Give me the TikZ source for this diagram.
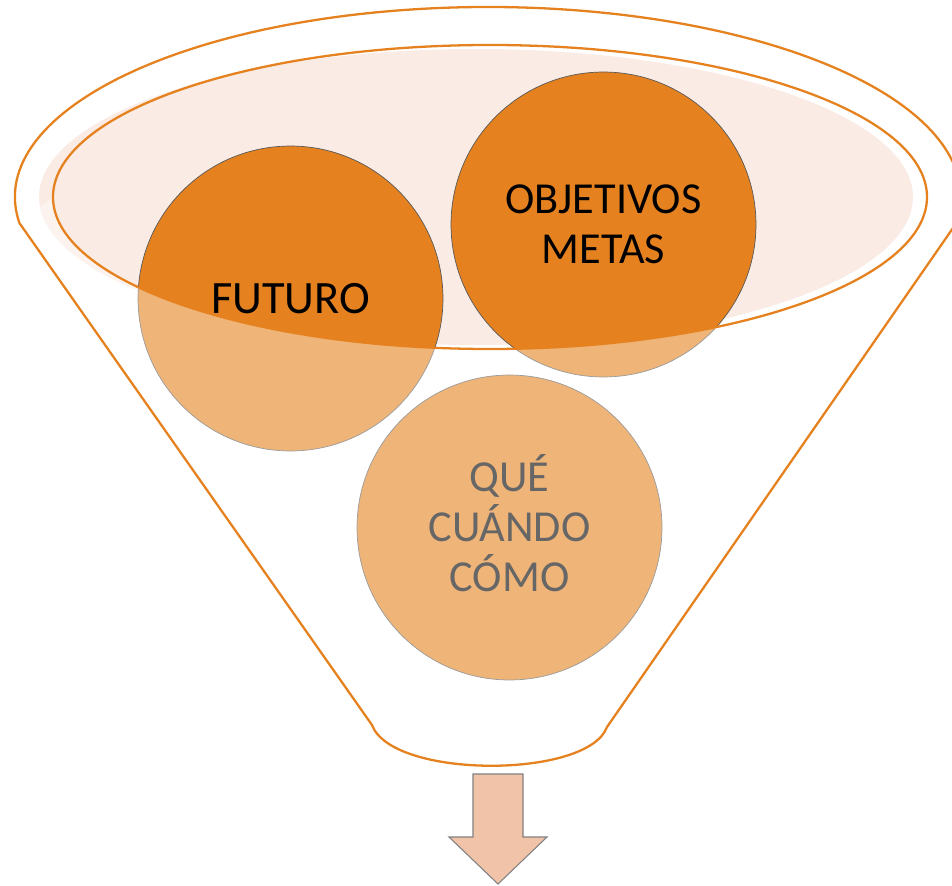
\documentclass[tikz,border=0pt]{standalone}
\usepackage{fontspec}
\setmainfont{Carlito}

\definecolor{funnelorange}{HTML}{E5821F}
\definecolor{rimpink}{HTML}{FAEBE4}
\definecolor{arrowpeach}{HTML}{F1C3A9}

\begin{document}
\begin{tikzpicture}[x=0.02cm, y=-0.02cm]

\tikzset{bubble/.style = {shape=circle, draw=black!65, line width=0.4pt, fill=funnelorange, minimum size=6.1cm, inner sep=0pt, align=center, text=black, font=\fontsize{25.2}{28.3}\selectfont}}
\tikzset{rim/.style = {draw=funnelorange, line width=1.3pt}}
\useasboundingbox (0,0) rectangle (952,885);
% rim fill
\fill[rimpink] (476,197) ellipse [x radius=437, y radius=148];
% vertices
\node[bubble, font=\fontsize{26.4}{28.3}\selectfont] (futuro) at (290.5,298.5) {FUTURO};
\node[bubble] (objetivos) at (603.5,224.5) {OBJETIVOS\\METAS};
\node[bubble] (que) at (509.5,527.5) {\vphantom{U}\smash{QUÉ}\\CUÁNDO\\CÓMO};
% funnel body
\fill[white, fill opacity=0.4] (53,197) arc[start angle=180, end angle=0, x radius=437, y radius=152] -- (956.6,223) -- (607,727) .. controls (588,779) and (392,779) .. (372,725) -- (19.4,223) -- cycle;
% outlines
\draw[rim] (490,197) ellipse [x radius=437, y radius=152];
\draw[rim] (19.4,223) arc[start angle=172.13, end angle=367.87, x radius=473, y radius=190] -- (607,727) .. controls (588,779) and (392,779) .. (372,725) -- cycle;
% arrow
\draw[draw=gray, line width=0.6pt, fill=arrowpeach] (473,774) -- (523,774) -- (523,837) -- (547,837) -- (498,884) -- (449,837) -- (473,837) -- cycle;
\end{tikzpicture}
\end{document}
